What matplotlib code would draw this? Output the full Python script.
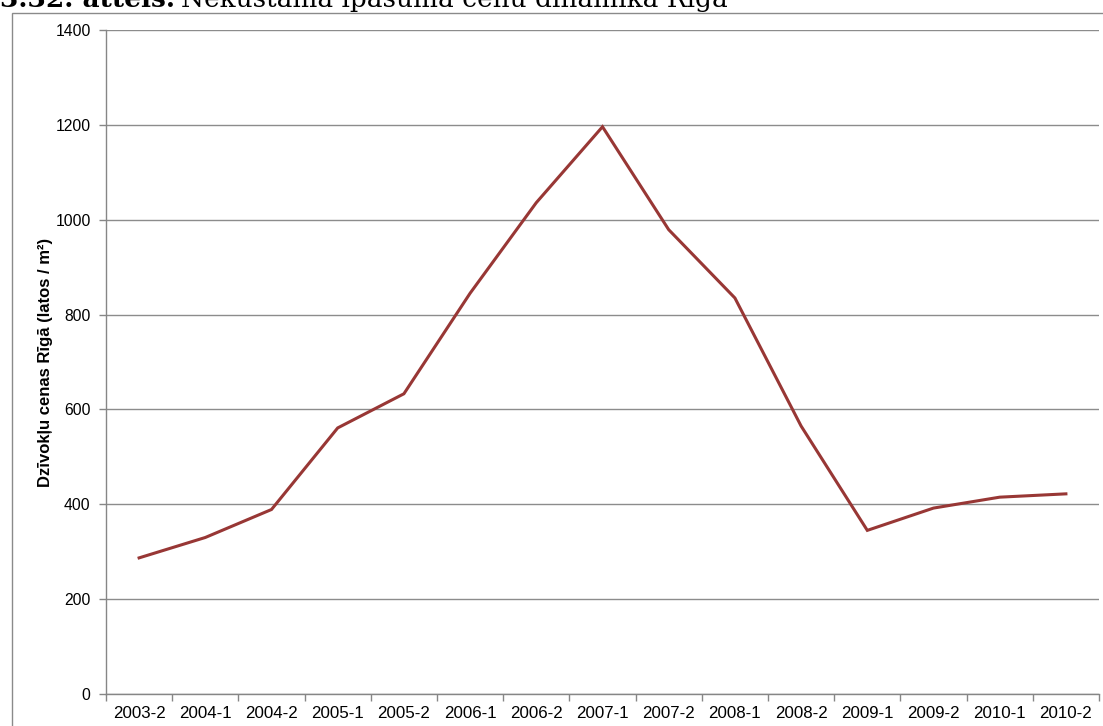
import matplotlib
matplotlib.use("Agg")
from matplotlib import pyplot as plt
from matplotlib.patches import Rectangle
import numpy as np

# half-year periods and apartment prices in Riga (lats per m2)
periods = ["2003-2", "2004-1", "2004-2", "2005-1", "2005-2", "2006-1", "2006-2", "2007-1",
           "2007-2", "2008-1", "2008-2", "2009-1", "2009-2", "2010-1", "2010-2"]
prices = [287, 330, 389, 561, 633, 845, 1036, 1196, 979, 835, 565, 345, 392, 415, 422]
y_ticks = [0, 200, 400, 600, 800, 1000, 1200, 1400]

W, H = 1103, 726
fig = plt.figure(figsize=(W / 100, H / 100), dpi=100)
plt.rcParams['font.family'] = ['Liberation Sans', 'DejaVu Sans']

# outer chart frame (partly outside the picture)
fig.patches.append(Rectangle((12 / W, -0.1), 1.2, 1.1 - 13 / H, transform=fig.transFigure,
                             fill=False, edgecolor='#8a8a8a', linewidth=1.0))

# caption cut off at the top: bold part, then the rest right after it
t1 = fig.text(0 / W, 1 - 7 / H, "3.32. attēls.", family='DejaVu Serif', fontweight='bold',
              fontsize=19, va='baseline', ha='left', color='black')
fig.canvas.draw()
bb = t1.get_window_extent()
fig.text((bb.x1 + 6) / W, 1 - 7 / H, "Nekustamā īpašuma cenu dinamika Rīgā", family='DejaVu Serif',
         fontsize=19, va='baseline', ha='left', color='black')

ax = fig.add_axes([106 / W, 1 - 694 / H, (1099 - 106) / W, (694 - 30) / H])
x = np.arange(len(periods))
ax.plot(x, prices, color='#983735', linewidth=2.2, solid_joinstyle='miter')

ax.set_xlim(-0.5, len(periods) - 0.5)
ax.set_ylim(0, 1400)
ax.set_yticks(y_ticks)
ax.set_yticklabels([str(v) for v in y_ticks], fontsize=11.3)
ax.set_xticks(x)
ax.set_xticklabels(periods, fontsize=12.2)
ax.tick_params(axis='x', length=0, pad=9)
ax.set_xticks(np.arange(len(periods) + 1) - 0.5, minor=True)
ax.tick_params(axis='x', which='minor', length=5, color='#868686', width=1)
ax.tick_params(axis='y', length=5, color='#868686', width=1, pad=6)

ax.grid(axis='y', color='#8c8c8c', linewidth=1)
ax.set_axisbelow(True)
for s in ['top', 'right']:
    ax.spines[s].set_visible(False)
for s in ['left', 'bottom']:
    ax.spines[s].set_color('#868686')
    ax.spines[s].set_linewidth(1)

ax.set_ylabel("Dzīvokļu cenas Rīgā (latos / m²)", fontsize=12, fontweight='bold')
ax.yaxis.set_label_coords(-(106 - 53) / (1099 - 106), 0.5)

fig.savefig("out.png", dpi=100)
